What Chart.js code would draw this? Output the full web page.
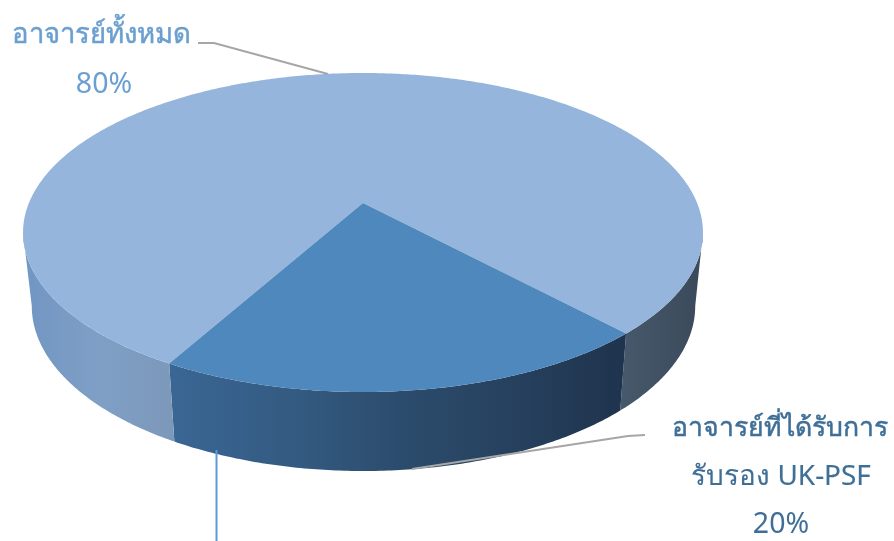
<!DOCTYPE html>
<html>
<head>
<meta charset="utf-8">
<style>
  html, body { margin: 0; padding: 0; background: #ffffff; }
  #wrap { position: relative; width: 894px; height: 541px; }
</style>
<script src="https://cdn.jsdelivr.net/npm/chart.js@4/dist/chart.umd.js"></script>
</head>
<body>
<div id="wrap"><canvas id="chart" width="894" height="541"></canvas></div>
<script>
// Share of lecturers holding UK-PSF recognition
const categories = ['อาจารย์ทั้งหมด', 'อาจารย์ที่ได้รับการรับรอง UK-PSF'];
const shares = [80, 20];
const shareLabels = ['80%', '20%'];
const sliceColors = ['#95b5dc', '#4f88bc'];

// Projected discs: the lid and the base of the cylinder, seen in perspective
const lid = { cx: 363, k: 0.185, a: 334.1, y0: 203, q: 116.5 };
const base = { cx: 363.5, k: 0.185, a: 326, y0: 275.5, q: 108.4 };
const project = (disc, angle) => {
  const x = Math.cos(angle), y = Math.sin(angle);
  const w = 1 - disc.k * y;
  return [disc.cx + disc.a * x / w, (disc.y0 + disc.q * y) / w];
};
// Angle at which the projected rim reaches its widest point
const rimAngle = Math.asin(lid.k);

const traceRim = (ctx, disc, from, to) => {
  const steps = Math.max(2, Math.ceil(Math.abs(to - from) / 0.01));
  for (let i = 0; i <= steps; i++) {
    const [px, py] = project(disc, from + (to - from) * i / steps);
    ctx.lineTo(px, py);
  }
};

const wallStops = [
  [[33, '#7397c3'], [100, '#7f9fc5'], [176, '#7c98b9']],
  [[176, '#3a6694'], [300, '#335a80'], [400, '#2c4c6d'], [500, '#274260'], [621, '#1f344e']],
  [[618, '#47596c'], [695, '#3b4b5c']]
];

const drawWall = (ctx, from, to, stops) => {
  const first = stops[0][0], last = stops[stops.length - 1][0];
  const grad = ctx.createLinearGradient(first, 0, last, 0);
  stops.forEach(([x, c]) => grad.addColorStop((x - first) / (last - first), c));
  ctx.beginPath();
  traceRim(ctx, lid, from, to);
  traceRim(ctx, base, to, from);
  ctx.closePath();
  ctx.fillStyle = grad;
  ctx.fill();
};

// Optional hairline outline so the thin Thai strokes carry more weight
const labelText = (ctx, text, x, y, font, outline) => {
  ctx.font = font;
  if (outline > 0) {
    ctx.lineWidth = outline;
    ctx.strokeStyle = ctx.fillStyle;
    ctx.strokeText(text, x, y);
  }
  ctx.fillText(text, x, y);
};

const cylinderPie = {
  id: 'cylinderPie',
  beforeDatasetsDraw(chart) {
    const ctx = chart.ctx;
    const meta = chart.getDatasetMeta(0);
    const colors = chart.data.datasets[0].backgroundColor;
    const small = meta.data[1];
    const tau = Math.PI * 2;
    const norm = a => ((a % tau) + tau) % tau;
    const smallStart = norm(small.startAngle);
    const smallEnd = norm(small.endAngle);

    ctx.save();
    // Visible wall, right to left along the front of the cylinder
    drawWall(ctx, rimAngle, smallStart, wallStops[2]);
    drawWall(ctx, smallStart, smallEnd, wallStops[1]);
    drawWall(ctx, smallEnd, Math.PI - rimAngle, wallStops[0]);

    // Lid slices
    meta.data.forEach((arc, i) => {
      ctx.beginPath();
      ctx.moveTo(lid.cx, lid.y0);
      traceRim(ctx, lid, arc.startAngle, arc.endAngle);
      ctx.closePath();
      ctx.fillStyle = colors[i];
      ctx.fill();
    });
    ctx.restore();
    return false;
  },
  afterDraw(chart) {
    const ctx = chart.ctx;
    ctx.save();
    // Leader lines
    ctx.lineWidth = 2;
    ctx.strokeStyle = '#a6a6a6';
    ctx.beginPath();
    ctx.moveTo(198, 43); ctx.lineTo(214, 43); ctx.lineTo(328, 74);
    ctx.stroke();
    ctx.beginPath();
    ctx.moveTo(645, 435); ctx.lineTo(628, 436); ctx.lineTo(412, 469);
    ctx.stroke();
    ctx.strokeStyle = '#5b9bd5';
    ctx.beginPath();
    ctx.moveTo(216.5, 450); ctx.lineTo(216.5, 541);
    ctx.stroke();

    // Slice labels
    const family = '"Noto Sans", "Open Sans", sans-serif';
    ctx.textAlign = 'center';
    ctx.textBaseline = 'alphabetic';
    ctx.fillStyle = '#6a9fd0';
    labelText(ctx, categories[0], 101, 43, `27.5px ${family}`, 0.5);
    labelText(ctx, shareLabels[0], 104, 93, `28.5px ${family}`, 0);
    ctx.fillStyle = '#3f6f97';
    labelText(ctx, 'อาจารย์ที่ได้รับการ', 780, 436, `26.6px ${family}`, 0.5);
    labelText(ctx, 'รับรอง UK-PSF', 781, 485, `27.9px ${family}`, 0.15);
    labelText(ctx, shareLabels[1], 781, 533, `28.5px ${family}`, 0);
    ctx.restore();
  }
};

new Chart(document.getElementById('chart'), {
  type: 'pie',
  data: {
    labels: categories,
    datasets: [{ data: shares, backgroundColor: sliceColors, borderWidth: 0 }]
  },
  options: {
    responsive: false,
    animation: false,
    rotation: 209.1,
    plugins: { legend: { display: false }, tooltip: { enabled: false } }
  },
  plugins: [cylinderPie]
});
</script>
</body>
</html>
